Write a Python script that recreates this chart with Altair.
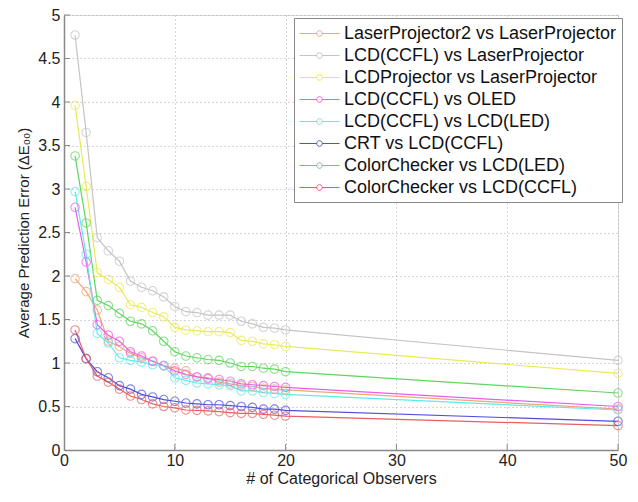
import altair as alt
import pandas as pd

x_vals = list(range(1, 21)) + [50]

names = [
    "LaserProjector2 vs LaserProjector",
    "LCD(CCFL) vs LaserProjector",
    "LCDProjector vs LaserProjector",
    "LCD(CCFL) vs OLED",
    "LCD(CCFL) vs LCD(LED)",
    "CRT vs LCD(CCFL)",
    "ColorChecker vs LCD(LED)",
    "ColorChecker vs LCD(CCFL)",
]
colors = ["#EFA679", "#C4C4C4", "#EAEA55", "#EA5CEA", "#5EEAEA", "#4F4FDB", "#5ED65E", "#EC5E5E"]

laser2_laser = [1.97, 1.82, 1.61, 1.25, 1.19, 1.11, 1.06, 1.02, 0.97, 0.94, 0.91, 0.84, 0.83, 0.78, 0.76, 0.74, 0.73, 0.71, 0.70, 0.69, 0.47]
ccfl_laser = [4.77, 3.65, 2.44, 2.29, 2.17, 1.94, 1.87, 1.83, 1.76, 1.65, 1.59, 1.58, 1.55, 1.55, 1.55, 1.48, 1.45, 1.41, 1.40, 1.38, 1.03]
lcdproj_laser = [3.96, 3.03, 2.04, 1.96, 1.87, 1.67, 1.64, 1.58, 1.53, 1.41, 1.38, 1.37, 1.36, 1.36, 1.35, 1.26, 1.25, 1.22, 1.21, 1.19, 0.88]
ccfl_oled = [2.79, 2.16, 1.44, 1.32, 1.25, 1.13, 1.08, 1.02, 0.97, 0.91, 0.87, 0.84, 0.82, 0.81, 0.79, 0.76, 0.75, 0.74, 0.73, 0.72, 0.50]
ccfl_led = [2.97, 2.25, 1.34, 1.23, 1.06, 1.03, 1.01, 0.98, 0.97, 0.83, 0.80, 0.77, 0.76, 0.75, 0.74, 0.68, 0.68, 0.66, 0.65, 0.64, 0.46]
crt_ccfl = [1.28, 1.05, 0.90, 0.83, 0.74, 0.70, 0.64, 0.61, 0.58, 0.56, 0.54, 0.53, 0.52, 0.52, 0.51, 0.50, 0.49, 0.47, 0.47, 0.455, 0.33]
cc_led = [3.38, 2.61, 1.72, 1.66, 1.57, 1.48, 1.45, 1.37, 1.25, 1.13, 1.08, 1.06, 1.04, 1.03, 1.00, 0.96, 0.96, 0.94, 0.93, 0.90, 0.655]
cc_ccfl = [1.38, 1.05, 0.85, 0.78, 0.70, 0.62, 0.58, 0.53, 0.50, 0.485, 0.46, 0.455, 0.45, 0.44, 0.43, 0.42, 0.42, 0.41, 0.40, 0.39, 0.28]

series_values = [laser2_laser, ccfl_laser, lcdproj_laser, ccfl_oled, ccfl_led, crt_ccfl, cc_led, cc_ccfl]

x_ticks = [0, 10, 20, 30, 40, 50]
y_ticks = [0, 0.5, 1, 1.5, 2, 2.5, 3, 3.5, 4, 4.5, 5]

rows = []
for i, (n, vals) in enumerate(zip(names, series_values)):
    for xv, yv in zip(x_vals, vals):
        rows.append({"series": n, "order": i, "x": xv, "y": yv})
df = pd.DataFrame(rows)

FONT = "Liberation Sans"
PLOT_H = 435

xs = alt.Scale(domain=[0, 50], nice=False, zero=False)
ys = alt.Scale(domain=[0, 5], nice=False)

x_axis = alt.Axis(values=x_ticks, title="# of Categorical Observers", grid=True,
                  gridDash=[1, 3], gridColor="#AAAAAA", domainColor="#888888", domainWidth=1.5,
                  ticks=False, labelFontSize=16, labelPadding=2, labelFont=FONT,
                  titleFont=FONT, titleFontSize=16, titleFontWeight="normal", titlePadding=2,
                  labelColor="#222222", titleColor="#222222", labelFlush=False)
y_axis = alt.Axis(values=y_ticks, format="~g", title="Average Prediction Error (ΔE₀₀)", grid=True,
                  gridDash=[1, 3], gridColor="#AAAAAA", domainColor="#888888", domainWidth=1.5,
                  ticks=False, labelFontSize=16, labelPadding=4, labelFont=FONT,
                  titleFont=FONT, titleFontSize=15, titleFontWeight="normal", titlePadding=6,
                  labelColor="#222222", titleColor="#222222", labelFlush=False)

color_scale = alt.Scale(domain=names, range=colors)

sym_path = "M-1,0H0.72M1.28,0H3M1.28,0A0.28,0.28,0,1,1,0.72,0A0.28,0.28,0,1,1,1.28,0"

legend = alt.Legend(title=None, orient="none", legendX=230, legendY=3,
                    strokeColor="#888888", fillColor="white", padding=5,
                    labelFont=FONT, labelFontSize=18, labelLimit=0, labelColor="#111111",
                    rowPadding=2, symbolType=sym_path, symbolSize=400, symbolStrokeWidth=1,
                    labelOffset=24)

base = alt.Chart(df)

lines = base.mark_line(strokeWidth=1.2).encode(
    x=alt.X("x:Q", scale=xs, axis=x_axis),
    y=alt.Y("y:Q", scale=ys, axis=y_axis),
    color=alt.Color("series:N", scale=color_scale, legend=legend, sort=names),
    order=alt.Order("x:Q"),
)

points = base.mark_point(filled=False, size=72, strokeWidth=1.1).encode(
    x=alt.X("x:Q", scale=xs, axis=x_axis),
    y=alt.Y("y:Q", scale=ys, axis=y_axis),
    color=alt.Color("series:N", scale=color_scale, legend=None, sort=names),
)

xt = alt.Chart(pd.DataFrame({"x": x_ticks[1:]})).mark_rule(color="#888888", strokeWidth=1).encode(
    x=alt.X("x:Q", scale=xs, axis=x_axis), y=alt.value(PLOT_H), y2=alt.value(PLOT_H - 6))
yt = alt.Chart(pd.DataFrame({"y": y_ticks[1:]})).mark_rule(color="#888888", strokeWidth=1).encode(
    y=alt.Y("y:Q", scale=ys, axis=y_axis), x=alt.value(0), x2=alt.value(6))

chart = alt.layer(lines, points, xt, yt).properties(
    width=554, height=PLOT_H,
    autosize=alt.AutoSizeParams(type="none"),
    padding={"left": 56, "top": 7, "right": 12, "bottom": 38},
).configure_view(stroke=None).configure(background="white")

chart.save("out.html", embed_options={"renderer": "svg", "actions": False})
